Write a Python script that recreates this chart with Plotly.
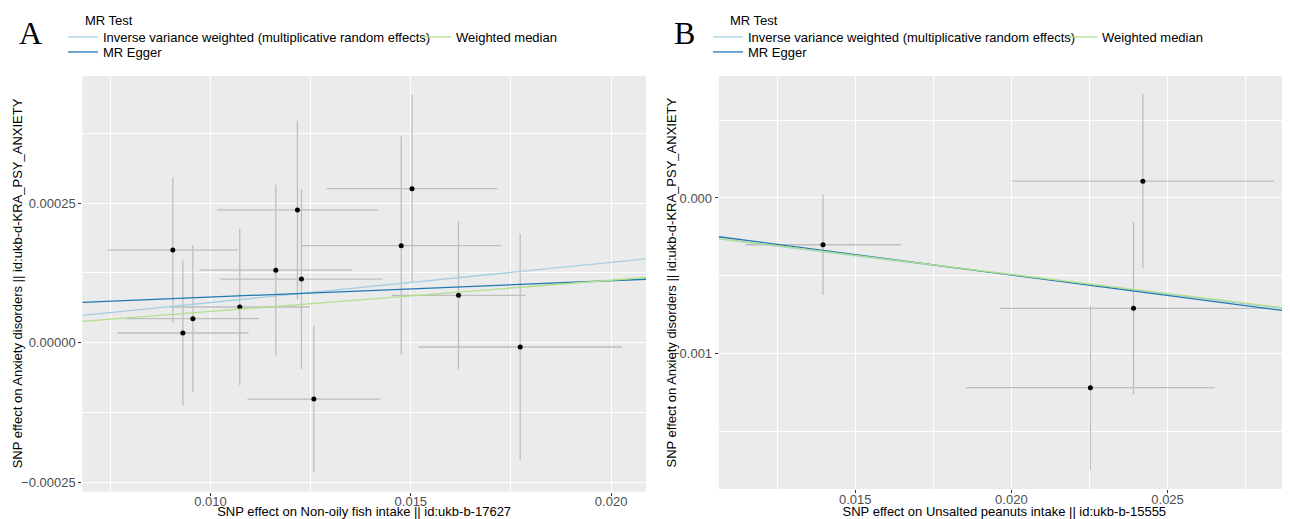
import plotly.graph_objects as go

# The page body adds an 8 px margin, so the figure is drawn 8 px smaller and
# all target screen positions are shifted by that amount.
OFF = 8
W, H = 1290 - OFF, 519 - OFF
FONT = "Liberation Sans, Arial, sans-serif"

# ---------------- data ----------------
methods = ["Inverse variance weighted (multiplicative random effects)", "MR Egger", "Weighted median"]
method_colors = ["#A6CEE3", "#1F78B4", "#B2DF8A"]

# Panel A: Non-oily fish intake -> Anxiety disorders
a_beta_exp = [0.00906, 0.00931, 0.00956, 0.01073, 0.01163, 0.01217, 0.01227, 0.01258, 0.01503, 0.01476, 0.01619, 0.01773]
a_beta_out = [0.000166, 0.0000174, 0.0000430, 0.0000640, 0.000130, 0.000238, 0.000114, -0.000101, 0.000276, 0.000174, 0.0000850, -0.0000077]
a_se_exp = [0.00162, 0.00164, 0.00165, 0.00175, 0.00191, 0.00201, 0.00203, 0.00166, 0.00213, 0.00249, 0.00167, 0.00254]
a_se_out = [0.000130, 0.000130, 0.000132, 0.000140, 0.000153, 0.000160, 0.000161, 0.000131, 0.000168, 0.000196, 0.000133, 0.000203]
a_intercepts = [0.0, 0.0000524, 0.0]
a_slopes = [0.0072, 0.00294, 0.0056]

# Panel B: Unsalted peanuts intake -> Anxiety disorders
b_beta_exp = [0.01397, 0.02421, 0.02391, 0.02253]
b_beta_out = [-0.000301, 0.000108, -0.000710, -0.001221]
b_se_exp = [0.00249, 0.00419, 0.00428, 0.00398]
b_se_out = [0.000323, 0.000560, 0.000554, 0.000530]
b_intercepts = [0.0, 0.00003, 0.0]
b_slopes = [-0.0248, -0.0263, -0.0246]

a_xtitle = "SNP effect on Non-oily fish intake || id:ukb-b-17627"
b_xtitle = "SNP effect on Unsalted peanuts intake || id:ukb-b-15555"
ytitle = "SNP effect on Anxiety disorders || id:ukb-d-KRA_PSY_ANXIETY"

# ---------------- layout geometry ----------------
a_xrange = [0.00680, 0.02087]
a_yrange = [-0.000267, 0.000478]
b_xrange = [0.01063, 0.02892]
b_yrange = [-0.001873, 0.000785]


def px_x(p):
    return (p - OFF) / W


def px_y(p):
    return 1 - (p - OFF) / H


fig = go.Figure()


def add_panel(bx, by, sx, sy, intercepts, slopes, xr, xa, ya, legends):
    fig.add_trace(go.Scatter(
        x=bx, y=by, mode="markers",
        marker=dict(color="black", size=5),
        error_x=dict(type="data", array=sx, symmetric=True, color="#BEBEBE", thickness=1.3, width=0),
        error_y=dict(type="data", array=sy, symmetric=True, color="#BEBEBE", thickness=1.3, width=0),
        xaxis=xa, yaxis=ya, showlegend=False))
    for m, c, a, b, lg in zip(methods, method_colors, intercepts, slopes, legends):
        fig.add_trace(go.Scatter(
            x=list(xr), y=[a + b * v for v in xr], mode="lines",
            line=dict(color=c, width=1.3), name=m, legend=lg,
            xaxis=xa, yaxis=ya, showlegend=True))


add_panel(a_beta_exp, a_beta_out, a_se_exp, a_se_out, a_intercepts, a_slopes, a_xrange,
          "x", "y", ["legend", "legend2", "legend3"])
add_panel(b_beta_exp, b_beta_out, b_se_exp, b_se_out, b_intercepts, b_slopes, b_xrange,
          "x2", "y2", ["legend4", "legend5", "legend6"])

axis_common = dict(
    automargin=False,
    showgrid=True, gridcolor="white", gridwidth=1.2, zeroline=False, showline=False,
    ticks="outside", ticklen=3, tickwidth=1, tickcolor="#333333",
    tickfont=dict(size=13, color="#4D4D4D", family=FONT),
)
x_common = dict(axis_common, ticklabelstandoff=-5, tick0=0, dtick=0.005, tickformat=".3f",
                minor=dict(dtick=0.0025, showgrid=True, gridcolor="white", gridwidth=0.6))

xtitle_font = dict(size=13, color="black", family=FONT)

fig.update_layout(
    template="none",
    width=W, height=H,
    margin=dict(l=0, r=0, t=0, b=0, autoexpand=False),
    paper_bgcolor="white", plot_bgcolor="#EBEBEB",
    font=dict(family=FONT, size=13, color="black"),
    xaxis=dict(x_common, domain=[px_x(82.3), px_x(646)], range=a_xrange, anchor="y",
               title=dict(text=a_xtitle, font=xtitle_font, standoff=8)),
    yaxis=dict(axis_common, domain=[px_y(491.7), px_y(76)], range=a_yrange, anchor="x",
               tick0=0, dtick=0.00025, tickformat=".5f",
               minor=dict(dtick=0.000125, showgrid=True, gridcolor="white", gridwidth=0.6)),
    xaxis2=dict(x_common, domain=[px_x(718.7), 1.0], range=b_xrange, anchor="y2",
                title=dict(text=b_xtitle, font=xtitle_font, standoff=8)),
    yaxis2=dict(axis_common, domain=[px_y(489), px_y(76)], range=b_yrange, anchor="x2",
                tick0=0, dtick=0.001, tickformat=".3f",
                minor=dict(dtick=0.0005, showgrid=True, gridcolor="white", gridwidth=0.6)),
)

legend_common = dict(xanchor="left", yanchor="top", bgcolor="rgba(0,0,0,0)", borderwidth=0,
                     itemwidth=30, font=dict(size=13, color="black", family=FONT))
# (text start x, row centre y) in screen pixels
legend_pos = {
    "legend": (103, 37), "legend2": (103, 52), "legend3": (456, 37),
    "legend4": (748, 37), "legend5": (748, 52), "legend6": (1102, 37),
}
fig.update_layout(**{
    k: dict(legend_common, x=px_x(tx - 40), y=px_y(cy - 15))
    for k, (tx, cy) in legend_pos.items()
})

annots = [
    dict(text="MR Test", x=px_x(83), y=px_y(20), xanchor="left", yanchor="middle",
         font=dict(size=13, color="black", family=FONT)),
    dict(text="MR Test", x=px_x(728), y=px_y(20), xanchor="left", yanchor="middle",
         font=dict(size=13, color="black", family=FONT)),
    dict(text="A", x=px_x(30.5), y=px_y(33), xanchor="center", yanchor="middle",
         font=dict(size=32, color="black", family="Liberation Serif, Times New Roman, serif")),
    dict(text="B", x=px_x(684.5), y=px_y(33), xanchor="center", yanchor="middle",
         font=dict(size=32, color="black", family="Liberation Serif, Times New Roman, serif")),
    dict(text=ytitle, textangle=-90, x=px_x(17.5), y=px_y((76 + 491.7) / 2),
         xanchor="center", yanchor="middle", font=dict(size=13, color="black", family=FONT)),
    dict(text=ytitle, textangle=-90, x=px_x(671), y=px_y((76 + 489) / 2),
         xanchor="center", yanchor="middle", font=dict(size=13, color="black", family=FONT)),
]
for a in annots:
    a.update(xref="paper", yref="paper", showarrow=False)
fig.update_layout(annotations=annots)

fig.write_html("out.html")
